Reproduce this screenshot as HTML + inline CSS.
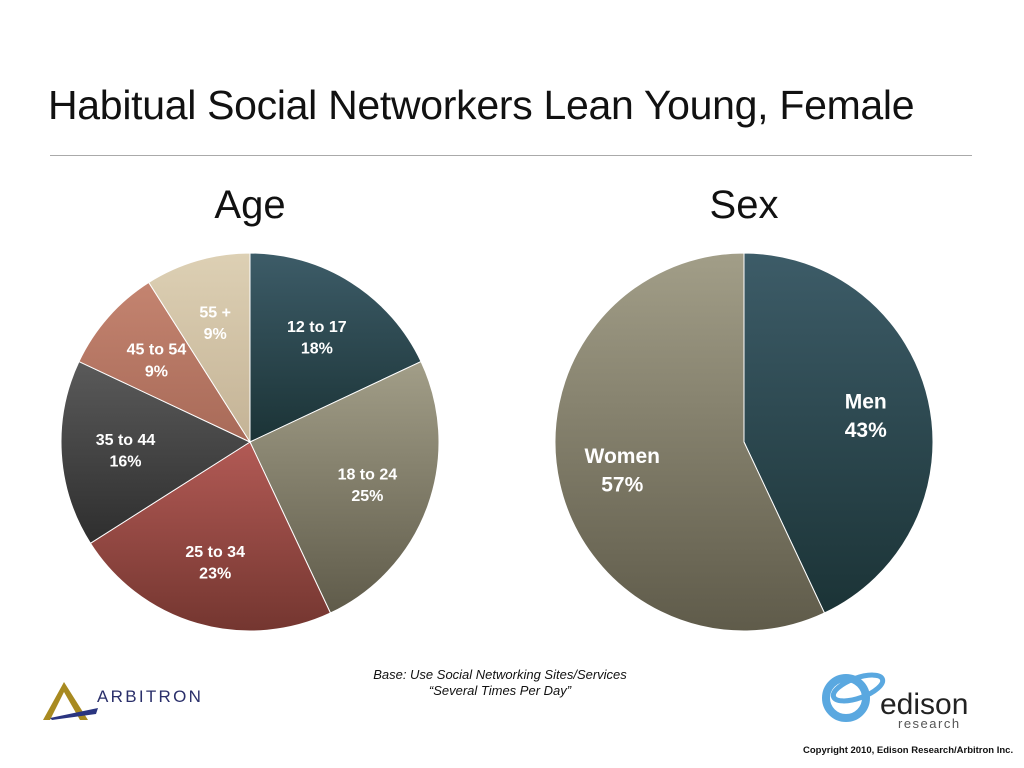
<!DOCTYPE html>
<html><head><meta charset="utf-8"><style>
body{margin:0;width:1024px;height:768px;background:#fff;font-family:"Liberation Sans",sans-serif;overflow:hidden;position:relative}
.t{position:absolute}
</style></head><body>
<div class="t" style="left:48px;top:82px;font-size:41px;color:#111;letter-spacing:-0.3px">Habitual Social Networkers Lean Young, Female</div>
<div class="t" style="left:50px;top:155px;width:922px;height:1px;background:#aaa"></div>
<div class="t" style="left:150px;top:183px;width:200px;text-align:center;font-size:40px;color:#111">Age</div>
<div class="t" style="left:644px;top:183px;width:200px;text-align:center;font-size:40px;color:#111">Sex</div>
<svg id="svg" width="1024" height="768" style="position:absolute;left:0;top:0">
<defs>
<linearGradient id="g0" x1="0" y1="0" x2="0" y2="1"><stop offset="0" stop-color="#3d5c68"/><stop offset="1" stop-color="#1b3336"/></linearGradient>
<linearGradient id="g1" x1="0" y1="0" x2="0" y2="1"><stop offset="0" stop-color="#a29e88"/><stop offset="1" stop-color="#5f5b4a"/></linearGradient>
<linearGradient id="g2" x1="0" y1="0" x2="0" y2="1"><stop offset="0" stop-color="#b25a55"/><stop offset="1" stop-color="#743630"/></linearGradient>
<linearGradient id="g3" x1="0" y1="0" x2="0" y2="1"><stop offset="0" stop-color="#5a5a5a"/><stop offset="1" stop-color="#2e2e2e"/></linearGradient>
<linearGradient id="g4" x1="0" y1="0" x2="0" y2="1"><stop offset="0" stop-color="#c48470"/><stop offset="1" stop-color="#a86a58"/></linearGradient>
<linearGradient id="g5" x1="0" y1="0" x2="0" y2="1"><stop offset="0" stop-color="#ddd0b4"/><stop offset="1" stop-color="#c4b396"/></linearGradient>
</defs>
</svg>
<div class="t" style="left:330px;top:667px;width:340px;text-align:center;font-size:13px;font-style:italic;color:#111;line-height:16px">Base: Use Social Networking Sites/Services<br>“Several Times Per Day”</div>
<svg class="t" style="left:40px;top:680px" width="180" height="45">
<polygon points="3,40 24,2 48,40 40,40 24,12 10,40" fill="#a88a20"/>
<polygon points="10,38 58,28 56,34 12,40" fill="#2a3580"/>
<text x="57" y="22" font-family="Liberation Sans" font-size="17" letter-spacing="2.3" fill="#2a2f6a">ARBITRON</text>
</svg>
<svg class="t" style="left:820px;top:670px" width="150" height="60">
<circle cx="26" cy="28" r="20" fill="none" stroke="#5aa8e0" stroke-width="8"/>
<ellipse cx="38" cy="18" rx="26" ry="10" fill="none" stroke="#5aa8e0" stroke-width="5" transform="rotate(-20 38 18)"/>
<text x="60" y="44" font-family="Liberation Sans" font-size="30" fill="#222">edison</text>
<text x="78" y="58" font-family="Liberation Sans" font-size="13" letter-spacing="1.5" fill="#555">research</text>
</svg>
<div class="t" style="left:803px;top:745px;font-size:9.5px;font-weight:bold;color:#111">Copyright 2010, Edison Research/Arbitron Inc.</div>
<script>
const ageCategories=["12 to 17","18 to 24","25 to 34","35 to 44","45 to 54","55 +"];
const ageValues=[18,25,23,16,9,9];
const sexCategories=["Men","Women"];
const sexValues=[43,57];
const svg=document.getElementById('svg');
const NS='http://www.w3.org/2000/svg';
function pie(cx,cy,r,cats,vals,fills,lr,fs,name,lh){
  const tot=vals.reduce((a,b)=>a+b,0);let acc=0;
  vals.forEach((v,i)=>{
    const a0=acc/tot*2*Math.PI;acc+=v;const a1=acc/tot*2*Math.PI;
    const p=(a)=>[cx+r*Math.sin(a),cy-r*Math.cos(a)];
    const [x0,y0]=p(a0),[x1,y1]=p(a1);
    const path=document.createElementNS(NS,'path');
    path.setAttribute('d',`M${cx},${cy}L${x0},${y0}A${r},${r} 0 ${a1-a0>Math.PI?1:0} 1 ${x1},${y1}Z`);
    path.setAttribute('fill',fills[i]);path.setAttribute('stroke','#fff');path.setAttribute('stroke-width','1');
    
    
    svg.appendChild(path);
    const am=(a0+a1)/2,lx=cx+lr*r*Math.sin(am),ly=cy-lr*r*Math.cos(am);
    const t=document.createElementNS(NS,'text');
    t.setAttribute('x',lx);t.setAttribute('y',ly-fs*0.3);t.setAttribute('text-anchor','middle');
    t.setAttribute('font-family','Liberation Sans');t.setAttribute('font-size',fs);t.setAttribute('fill','#fff');
    t.setAttribute('font-weight','bold');
    
    
    const s1=document.createElementNS(NS,'tspan');s1.setAttribute('x',lx);s1.textContent=cats[i];
    const s2=document.createElementNS(NS,'tspan');s2.setAttribute('x',lx);s2.setAttribute('dy',fs*lh);s2.textContent=vals[i]+'%';
    t.appendChild(s1);t.appendChild(s2);svg.appendChild(t);
  });
}
pie(250,442,189,ageCategories,ageValues,['url(#g0)','url(#g1)','url(#g2)','url(#g3)','url(#g4)','url(#g5)'],0.66,16,'age',1.35);
pie(744,442,189,sexCategories,sexValues,['url(#g0)','url(#g1)'],0.66,21,'sex',1.35);
</script>
</body></html>
